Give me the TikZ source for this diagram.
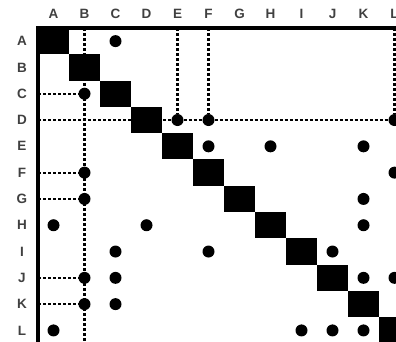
\documentclass[tikz,border=0pt]{standalone}
\usepackage{fontspec}
\setmainfont{Liberation Sans}
\usetikzlibrary{positioning, calc}
\tikzset{
  lbl/.style={font=\fontsize{13.5}{13.5}\selectfont\bfseries, text=black!75,
              inner sep=0pt},
  blk/.style={fill=black, draw=none, minimum width=31pt, minimum height=26.3pt,
              inner sep=0pt},
  dot/.style={circle, fill=black, minimum size=12pt, inner sep=0pt},
  link/.style={line width=2.2pt, dash pattern=on 3pt off 2pt},
  frame/.style={line width=3.5pt, line cap=rect},
}

\begin{document}
\begin{tikzpicture}[x=1pt, y=1pt]
  \clip (0,0) rectangle (396,342);

  % labels, diagonal cells and grid anchors
  \foreach \n [count=\i] in {A,B,C,D,E,F,G,H,I,J,K,L} {
    \node[lbl] (col\n) at ({38+31*(\i-0.5)},328) {\n};
    \node[lbl] (row\n) at (22,{314-26.3*(\i-0.5)}) {\n};
    \coordinate (top\n) at ({38+31*(\i-0.5)},314);
    \coordinate (bot\n) at ({38+31*(\i-0.5)},-4);
    \coordinate (left\n) at (38,{314-26.3*(\i-0.5)});
    \node[blk] (sq\n) at (top\n |- left\n) {};
  }
  \coordinate (corner) at (38,314);
  \coordinate (right) at (400,314);
  \coordinate (floor) at (38,-4);

  % dots (row/column)
  \foreach \r/\c in {A/C, C/B, D/E, D/F, D/L, E/F, E/H, E/K, F/B, F/L,
                     G/B, G/K, H/A, H/D, H/K, I/C, I/F, I/J, J/B, J/C,
                     J/K, J/L, K/B, K/C, L/A, L/I, L/J, L/K}
    \node[dot] (d\r\c) at (top\c |- left\r) {};

  % dashed links
  \draw[link] (topB) -- (botB);
  \draw[link] (leftC) -- (dCB);
  \draw[link] (leftF) -- (dFB);
  \draw[link] (leftG) -- (dGB);
  \draw[link] (leftJ) -- (dJB);
  \draw[link] (leftK) -- (dKB);
  \draw[link] (leftD) -- (dDE) -- (dDF) -- (dDL);
  \draw[link] (topE) -- (dDE);
  \draw[link] (topF) -- (dDF);
  \draw[link] (topL) -- (dDL);

  % frame
  \draw[frame] (right) -- (corner) -- (floor);
\end{tikzpicture}
\end{document}
